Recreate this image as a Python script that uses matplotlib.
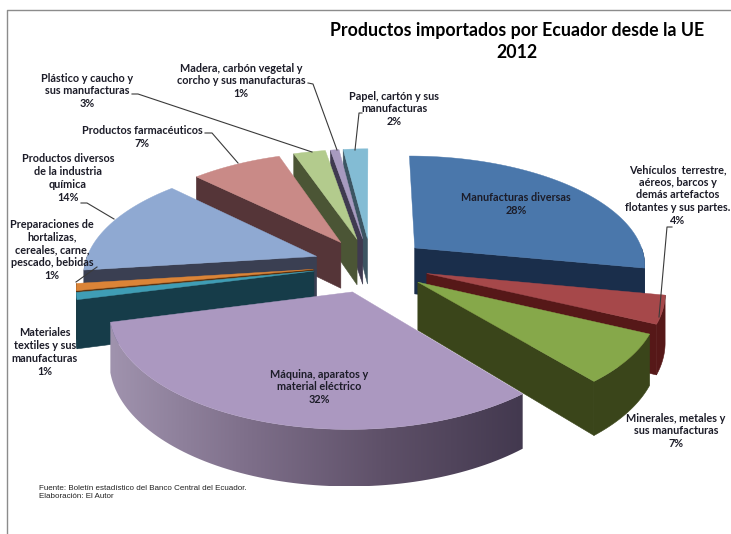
import numpy as np
from matplotlib import pyplot as plt
from matplotlib.colors import LinearSegmentedColormap, to_rgb
from matplotlib.patches import Polygon

# clockwise from 12 o'clock, the shown labels are rounded
values = [28, 4, 7, 32, 1, 1, 14.3, 7.4, 2.6, 0.7, 2]
names = ['Manufacturas diversas',
         'Vehículos  terrestre,\naéreos, barcos y\ndemás artefactos\nflotantes y sus partes.',
         'Minerales, metales y\nsus manufacturas',
         'Máquina, aparatos y\nmaterial eléctrico',
         'Materiales\ntextiles y sus\nmanufacturas',
         'Preparaciones de\nhortalizas,\ncereales, carne,\npescado, bebidas',
         'Productos diversos\nde la industria\nquímica',
         'Productos farmacéuticos',
         'Plástico y caucho y\nsus manufacturas',
         'Madera, carbón vegetal y\ncorcho y sus manufacturas',
         'Papel, cartón y sus\nmanufacturas']
top_colors = ['#4a77ab', '#a6484a', '#86a84a', '#ab98c0', '#3f9db5', '#db8437',
              '#8fa9d2', '#c98a87', '#b3cb8d', '#a79abf', '#83bcd4']
side_colors = ['#1a2e4b', '#561818', '#3a451a', '#453a4f', '#163c49', '#5a3210',
               '#3a3f52', '#553538', '#4b5535', '#3f3a50', '#3c5562']
label_xy = [(516, 204), (678, 195), (676, 431), (319, 387), (45, 352), (52, 250),
            (68, 178), (142, 137), (87, 91), (241, 81), (394, 109)]
leaders = [None,
           [(672, 227), (667, 227), (659, 317)],
           None, None, None,
           [(97, 267), (76, 282)],
           [(81, 203), (87, 203), (114, 219)],
           [(205, 133), (212, 133), (238, 163)],
           [(132, 94), (138, 94), (312, 152)],
           [(308, 83), (313, 84), (337, 150)],
           [(362, 113), (359, 113), (355, 150)]]

# back to front
draw_order = [10, 9, 8, 7, 6, 5, 4, 0, 1, 2, 3]

EXPLODE = 0.25
VX, HY, F, G, K, DEPTH = 371, -506, 232, 771, 0.142, 47

plt.rcParams['font.family'] = ['Lato', 'DejaVu Sans']
fig = plt.figure(figsize=(7.31, 5.34), dpi=100)
ax = fig.add_axes([0, 0, 1, 1])
ax.axis('off')

wall_cmap = LinearSegmentedColormap.from_list('wall', ['#a093ae', '#7e6f8a', '#5e5068', '#43394f'])


def project(u, v, drop=0):
    z = 1 + K * v
    return VX + F * u / z, HY + (G + drop) / z


edges = np.concatenate([[0], np.cumsum(values)]) * 360 / sum(values)

for i in draw_order:
    a0, a1 = np.radians(edges[i]), np.radians(edges[i + 1])
    mid = (a0 + a1) / 2
    ou, ov = EXPLODE * np.sin(mid), EXPLODE * np.cos(mid)
    side = to_rgb(side_colors[i])

    # radial wall that faces the viewer
    wall = a1 if np.sin(mid) > 0 else a0
    eu, ev = ou + np.sin(wall), ov + np.cos(wall)
    if i != 3:
        ax.add_patch(Polygon([project(ou, ov), project(eu, ev),
                              project(eu, ev, DEPTH), project(ou, ov, DEPTH)],
                             closed=True, fc=side, ec=side, lw=0.4))

    # outer wall, only the part turned towards the viewer
    lo, hi = max(a0, np.pi / 2), min(a1, 3 * np.pi / 2)
    if hi > lo:
        t = np.linspace(lo, hi, 80)
        xs, ys = project(ou + np.sin(t), ov + np.cos(t))
        xb, yb = project(ou + np.sin(t), ov + np.cos(t), DEPTH)
        outline = list(zip(xs, ys)) + list(zip(xb, yb))[::-1]
        if i == 3:
            # big slice gets a smooth shade, lit on the left
            p = Polygon(outline, closed=True, fc='none', ec='none')
            ax.add_patch(p)
            grad = np.linspace(0, 1, 256).reshape(1, -1)
            im = ax.imshow(grad, cmap=wall_cmap, aspect='auto', zorder=p.get_zorder(),
                           extent=[min(xs.min(), xb.min()), max(xs.max(), xb.max()),
                                   max(ys.max(), yb.max()), min(ys.min(), yb.min())])
            im.set_clip_path(p)
        else:
            ax.add_patch(Polygon(outline, closed=True, fc=side, ec=side, lw=0.4))

    # top face
    t = np.linspace(a0, a1, 80)
    xs, ys = project(ou + np.sin(t), ov + np.cos(t))
    pts = [project(ou, ov)] + list(zip(xs, ys))
    ax.add_patch(Polygon(pts, closed=True, fc=top_colors[i], ec=top_colors[i], lw=0.3, zorder=1.5))

# leader lines
for line in leaders:
    if line is not None:
        ax.plot([p[0] for p in line], [p[1] for p in line], color='#3a3a3a', lw=0.8, zorder=3)

# labels
for name, val, (lx, ly) in zip(names, values, label_xy):
    ax.text(lx, ly, f'{name}\n{round(val)}%', ha='center', va='center', fontsize=7.8,
            color='#1c1c28', weight='bold', linespacing=1.2, zorder=4)

ax.text(517, 41.5, 'Productos importados por Ecuador desde la UE\n2012', ha='center', va='center',
        fontsize=12.8, weight='bold', color='black', linespacing=1.32)
ax.text(39, 492.5, 'Fuente: Boletín estadístico del Banco Central del Ecuador.\nElaboración: El Autor',
        ha='left', va='center', fontsize=5.8, family='Liberation Sans', color='#222222',
        linespacing=1.1)

# chart frame
ax.plot([6.5, 6.5, 731], [534, 9.5, 9.5], color='#8c8c8c', lw=1.0)

ax.set_xlim(0, 731)
ax.set_ylim(534, 0)
fig.savefig('out.png', dpi=100)
